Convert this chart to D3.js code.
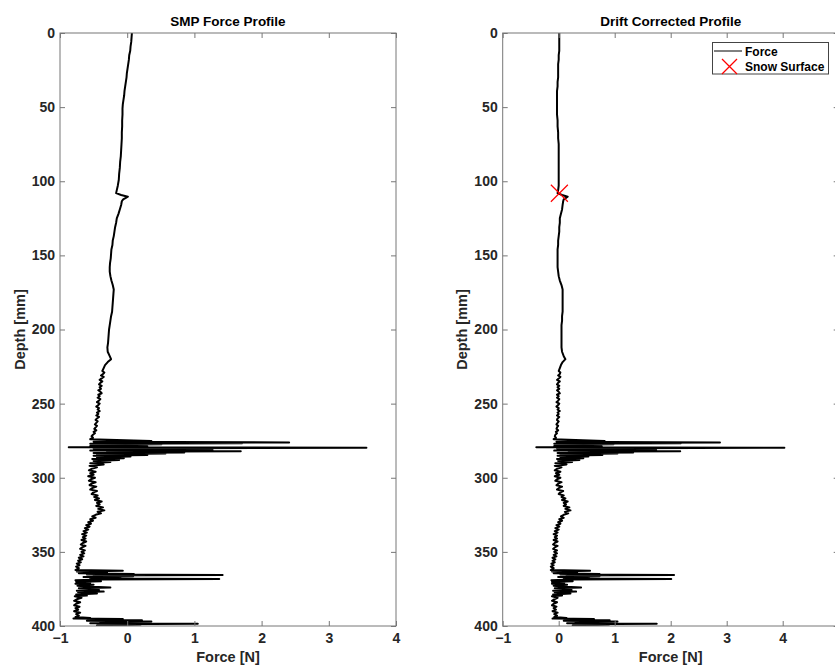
<!DOCTYPE html>
<html><head><meta charset="utf-8">
<script src="https://cdn.jsdelivr.net/npm/d3@7"></script>
<style>
body{margin:0;background:#fff}
svg text{font-family:"Liberation Sans",Arial,Helvetica,sans-serif;}
</style>
</head><body>
<svg id="chart" width="835" height="665"></svg>
<script>
// ---- data ----
const depth = [
 0,3,6,9,12,15,18,21,24,27,30,33,36,39,42,45,48,51,55,59,63,67,71,75,79,83,87,91,95,99,103,106,108,
 109.3,110.4,111.2,112.2,113.5,116,119,122,125,128,131,134,
 137,140,143,146,149,152,155,158,161,164,167,170,173,176,179,182,185,188,191,194,197,200,203,206,209,212,215,218,220,222,224,226,
 228,229,230,231,232,233,234,235,236,237,238,239,240,241,242,243,244,245,246,247,248,249,250,251,252,253,254,255,256,257,258,259,260,261,262,263,264,265,266,267,268,269,270,271,272,273,274,
 275.2,275.7,276.2,276.5,276.8,277.1,277.4,277.8,278.2,278.6,279,279.4,279.8,280.2,280.5,280.9,281.3,281.7,282.1,282.5,282.9,283.3,283.7,284.1,284.6,285.1,285.6,286.2,286.8,287.4,288,288.7,289.4,290.2,291,
 292,293,294,295,296,297,298,299,300,301,302,303,304,305,306,307,308,309,310,311,312,313,314,315,316,317,318,319,320,321,322,323,324,325,326,327,328,329,330,331,332,333,334,335,336,337,338,339,340,341,342,343,344,345,346,347,348,349,350,351,352,353,354,355,356,357,358,359,360,361,
 362.3,362.8,363.3,363.9,364.4,364.9,365.3,365.6,366,366.5,367,367.6,368,368.3,368.7,369.2,369.8,370.3,370.9,371.5,372.2,372.8,373.4,374,374.5,375.1,375.7,376.2,376.8,377.3,378,378.7,379.5,
 380,381,382,383,384,385,386,387,388,389,390,391,392,393,394,
 394.6,395,395.3,395.7,396.1,396.5,396.9,397.3,397.7,398.1,398.4,398.8,399.2,399.6,400
];
const forceRaw = [
 0.07,0.065,0.06,0.05,0.045,0.03,0.025,0.015,0.005,-0.005,-0.01,-0.02,-0.03,-0.04,-0.045,-0.055,-0.065,-0.07,-0.07,-0.075,-0.075,-0.08,-0.08,-0.085,-0.09,-0.095,-0.105,-0.11,-0.12,-0.125,-0.14,-0.155,-0.165,
 -0.09,0.01,-0.02,-0.06,-0.08,-0.09,-0.11,-0.13,-0.155,-0.165,-0.18,-0.19,
 -0.2,-0.215,-0.22,-0.235,-0.24,-0.245,-0.255,-0.26,-0.26,-0.25,-0.235,-0.215,-0.2,-0.205,-0.21,-0.215,-0.22,-0.225,-0.24,-0.25,-0.26,-0.27,-0.275,-0.28,-0.285,-0.295,-0.29,-0.26,-0.24,-0.29,-0.33,-0.35,
 -0.37,-0.34,-0.36,-0.39,-0.35,-0.38,-0.41,-0.37,-0.40,-0.42,-0.38,-0.41,-0.39,-0.43,-0.40,-0.38,-0.43,-0.41,-0.44,-0.40,-0.42,-0.45,-0.41,-0.43,-0.46,-0.42,-0.44,-0.41,-0.45,-0.43,-0.46,-0.42,-0.45,-0.47,-0.44,-0.46,-0.48,-0.45,-0.47,-0.49,-0.46,-0.50,-0.48,-0.51,-0.53,-0.51,-0.55,
 0.36,-0.5,2.41,-0.4,1.71,-0.55,0.51,-0.3,0.2,-0.55,0.3,-0.87,3.56,-0.5,1.2,-0.4,1.27,-0.55,1.69,-0.3,0.85,-0.5,0.57,-0.45,0.3,-0.5,0.05,-0.45,-0.05,-0.52,-0.12,-0.5,-0.25,-0.55,-0.35,
 -0.56,-0.45,-0.53,-0.57,-0.47,-0.55,-0.50,-0.58,-0.48,-0.54,-0.57,-0.47,-0.53,-0.56,-0.46,-0.52,-0.55,-0.45,-0.51,-0.53,-0.44,-0.49,-0.42,-0.48,-0.38,-0.45,-0.41,-0.46,-0.36,-0.43,-0.34,-0.44,-0.39,-0.47,-0.52,-0.47,-0.55,-0.51,-0.58,-0.54,-0.61,-0.56,-0.63,-0.58,-0.65,-0.60,-0.67,-0.61,-0.66,-0.62,-0.68,-0.61,-0.66,-0.69,-0.62,-0.67,-0.70,-0.63,-0.68,-0.64,-0.70,-0.65,-0.72,-0.67,-0.73,-0.69,-0.75,-0.71,-0.76,-0.72,
 -0.77,-0.065,-0.75,-0.3,-0.72,0.1,-0.6,1.42,-0.5,0.09,-0.65,-0.1,-0.55,1.37,-0.4,-0.77,-0.39,-0.76,-0.55,-0.77,-0.5,-0.74,-0.6,-0.25,-0.72,-0.5,-0.42,-0.75,-0.35,-0.73,-0.45,-0.76,-0.6,
 -0.78,-0.68,-0.75,-0.79,-0.70,-0.76,-0.79,-0.71,-0.77,-0.73,-0.79,-0.70,-0.76,-0.72,-0.77,
 -0.55,-0.8,-0.065,-0.5,0.22,-0.6,0.36,-0.4,0.1,-0.55,1.05,-0.3,0.2,-0.45,-0.1
];
const forceCorrected = [
 0.01,0.01,0.01,0.01,0.01,0.00,0.00,-0.01,-0.01,-0.01,-0.01,-0.02,-0.02,-0.03,-0.03,-0.03,-0.03,-0.03,-0.03,-0.02,-0.02,-0.01,-0.01,0.00,0.00,0.00,0.00,0.00,0.00,0.00,0.00,-0.01,-0.02,
 0.06,0.16,0.13,0.09,0.08,0.07,0.06,0.04,0.02,0.02,0.01,0.01,
 0.00,-0.01,-0.01,-0.02,-0.02,-0.02,-0.02,-0.02,-0.01,0.00,0.02,0.05,0.07,0.07,0.07,0.07,0.07,0.07,0.06,0.06,0.05,0.05,0.05,0.05,0.05,0.05,0.06,0.09,0.12,0.07,0.04,0.02,
 0.00,0.03,0.02,-0.01,0.03,0.00,-0.03,0.02,-0.01,-0.03,0.01,-0.02,0.01,-0.03,0.00,0.02,-0.03,0.00,-0.03,0.01,-0.01,-0.04,0.01,-0.01,-0.04,0.00,-0.02,0.02,-0.02,0.00,-0.03,0.01,-0.02,-0.03,0.00,-0.02,-0.04,-0.01,-0.03,-0.04,-0.01,-0.05,-0.03,-0.06,-0.07,-0.05,-0.09,
 0.82,-0.04,2.88,0.07,2.18,-0.08,0.98,0.17,0.67,-0.08,0.77,-0.40,4.03,-0.03,1.67,0.07,1.74,-0.08,2.17,0.18,1.33,-0.02,1.05,0.03,0.78,-0.02,0.53,0.03,0.44,-0.03,0.37,-0.01,0.24,-0.06,0.14,
 -0.07,0.05,-0.03,-0.07,0.03,-0.05,0.01,-0.07,0.03,-0.03,-0.06,0.05,-0.01,-0.04,0.06,0.00,-0.03,0.08,0.02,0.00,0.09,0.05,0.12,0.06,0.16,0.09,0.13,0.09,0.19,0.12,0.21,0.11,0.17,0.09,0.04,0.09,0.01,0.06,-0.01,0.03,-0.04,0.01,-0.06,0.00,-0.07,-0.02,-0.09,-0.03,-0.07,-0.03,-0.09,-0.02,-0.07,-0.10,-0.02,-0.07,-0.10,-0.03,-0.08,-0.03,-0.09,-0.04,-0.11,-0.06,-0.11,-0.07,-0.13,-0.09,-0.14,-0.09,
 -0.14,0.56,-0.12,0.33,-0.09,0.73,0.03,2.06,0.14,0.73,-0.01,0.54,0.09,2.01,0.24,-0.13,0.25,-0.12,0.10,-0.12,0.15,-0.09,0.05,0.40,-0.07,0.15,0.23,-0.10,0.31,-0.07,0.21,-0.10,0.06,
 -0.12,-0.02,-0.08,-0.12,-0.03,-0.09,-0.12,-0.04,-0.09,-0.05,-0.11,-0.02,-0.08,-0.03,-0.08,
 0.14,-0.11,0.63,0.19,0.91,0.09,1.05,0.30,0.80,0.15,1.75,0.40,0.90,0.25,0.60
];
const yTicks = [0,50,100,150,200,250,300,350,400];
const xTicksLeft = [-1,0,1,2,3,4];
const xTicksRight = [-1,0,1,2,3,4];
const snowSurfaceDepth = [108.1];
const snowSurfaceForce = [0.012];
const titles = ["SMP Force Profile","Drift Corrected Profile"];
const legendLabels = ["Force","Snow Surface"];

// ---- layout ----
const svg = d3.select("#chart");
const TOP = 33, BOTTOM = 626;
const FONT = '"Liberation Sans",Arial,Helvetica,sans-serif';
const AX = "#777", TXT = "#262626";
const panels = [
  {title: titles[0], force: forceRaw, left: 60, right: 396, dom: [-1,4], ticks: xTicksLeft, legend: false},
  {title: titles[1], force: forceCorrected, left: 502.7, right: 838.7, dom: [-1,5], ticks: xTicksRight, legend: true}
];
const fmt = d => d < 0 ? "\u2212" + Math.abs(d) : String(d);

panels.forEach((p, i) => {
  const x = d3.scaleLinear().domain(p.dom).range([p.left, p.right]);
  const y = d3.scaleLinear().domain([0,400]).range([TOP, BOTTOM]);
  const g = svg.append("g");

  const clipId = "clip" + i;
  g.append("clipPath").attr("id", clipId).append("rect")
    .attr("x", p.left).attr("y", TOP).attr("width", p.right - p.left).attr("height", BOTTOM - TOP);

  const n = Math.min(depth.length, p.force.length);
  const line = d3.line().x(k => x(p.force[k])).y(k => y(depth[k]));
  g.append("path").datum(d3.range(n))
    .attr("clip-path", `url(#${clipId})`)
    .attr("d", line)
    .attr("fill", "none").attr("stroke", "#000")
    .attr("stroke-width", 2).attr("stroke-linejoin", "round");

  const styleAxis = (sel, labels) => {
    sel.select(".domain").remove();
    sel.selectAll(".tick line").attr("stroke", AX);
    sel.selectAll(".tick text")
      .attr("fill", TXT).attr("font-size", 14).attr("font-weight", "bold").attr("font-family", FONT);
    if (!labels) sel.selectAll(".tick text").remove();
  };
  g.append("g").attr("transform", `translate(0,${BOTTOM})`)
    .call(d3.axisBottom(x).tickValues(p.ticks).tickSizeInner(-5).tickSizeOuter(0).tickPadding(7.5).tickFormat(fmt))
    .call(s => styleAxis(s, true));
  g.append("g").attr("transform", `translate(0,${TOP})`)
    .call(d3.axisTop(x).tickValues(p.ticks).tickSizeInner(-5).tickSizeOuter(0).tickFormat(""))
    .call(s => styleAxis(s, false));
  g.append("g").attr("transform", `translate(${p.left},0)`)
    .call(d3.axisLeft(y).tickValues(yTicks).tickSizeInner(-5).tickSizeOuter(0).tickPadding(5))
    .call(s => styleAxis(s, true));
  g.append("g").attr("transform", `translate(${p.right},0)`)
    .call(d3.axisRight(y).tickValues(yTicks).tickSizeInner(-5).tickSizeOuter(0).tickFormat(""))
    .call(s => styleAxis(s, false));

  g.append("rect").attr("x", p.left).attr("y", TOP)
    .attr("width", p.right - p.left).attr("height", BOTTOM - TOP)
    .attr("fill", "none").attr("stroke", AX).attr("stroke-width", 1);

  const cx = (p.left + p.right) / 2;
  g.append("text").attr("x", cx).attr("y", 26).attr("text-anchor", "middle")
    .attr("font-size", 13.5).attr("font-weight", "bold").attr("fill", "#000").text(p.title);
  g.append("text").attr("x", cx).attr("y", 661.5).attr("text-anchor", "middle")
    .attr("font-size", 14.5).attr("font-weight", "bold").attr("fill", TXT).text("Force [N]");
  g.append("text").attr("transform", `translate(${p.left - 35.5},${(TOP + BOTTOM) / 2}) rotate(-90)`)
    .attr("text-anchor", "middle").attr("font-size", 14.5).attr("font-weight", "bold").attr("fill", TXT).text("Depth [mm]");

  if (p.legend) {
    const ms = 8.5;
    g.selectAll(".snow").data(snowSurfaceDepth).enter().append("path")
      .attr("d", (d, k) => {
        const px = x(snowSurfaceForce[k]), py = y(d);
        return `M${px - ms},${py - ms}L${px + ms},${py + ms}M${px - ms},${py + ms}L${px + ms},${py - ms}`;
      })
      .attr("stroke", "#ff0000").attr("stroke-width", 1.2).attr("fill", "none");

    const lg = g.append("g");
    lg.append("rect").attr("x", 712.5).attr("y", 42.5).attr("width", 116).attr("height", 31.5)
      .attr("fill", "#fff").attr("stroke", "#444").attr("stroke-width", 1);
    lg.append("line").attr("x1", 714).attr("x2", 742).attr("y1", 51).attr("y2", 51)
      .attr("stroke", "#000").attr("stroke-width", 1);
    const lx = 729.5, ly = 66.5, ls = 7.5;
    lg.append("path")
      .attr("d", `M${lx - ls},${ly - ls}L${lx + ls},${ly + ls}M${lx - ls},${ly + ls}L${lx + ls},${ly - ls}`)
      .attr("stroke", "#ff0000").attr("stroke-width", 1.3).attr("fill", "none");
    lg.selectAll(".lt").data(legendLabels).enter().append("text")
      .attr("x", 745).attr("y", (d, k) => 55.5 + k * 15.5)
      .attr("font-size", 12).attr("font-weight", "bold").attr("fill", "#000").text(d => d);
  }
});
</script>
</body></html>
